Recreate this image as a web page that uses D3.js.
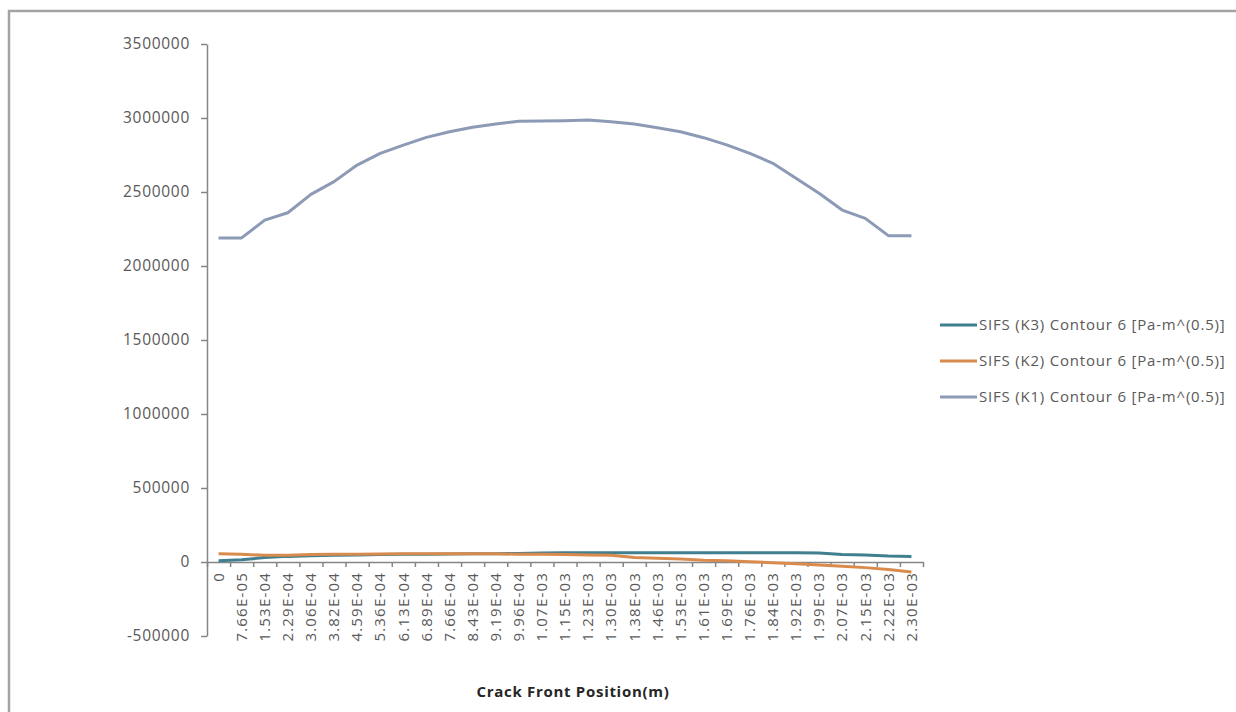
<!DOCTYPE html>
<html>
<head>
<meta charset="utf-8">
<script src="https://cdn.jsdelivr.net/npm/d3@7"></script>
<style>
  html, body { margin: 0; padding: 0; background: #ffffff; }
  svg { display: block; }
  text { font-family: "Open Sans", "DejaVu Sans", sans-serif; }
</style>
</head>
<body>
<svg id="chart" width="1236" height="712"></svg>
<script>
// Crack front positions (category labels along the x axis)
const positions = [
  "0", "7.66E-05", "1.53E-04", "2.29E-04", "3.06E-04", "3.82E-04", "4.59E-04",
  "5.36E-04", "6.13E-04", "6.89E-04", "7.66E-04", "8.43E-04", "9.19E-04",
  "9.96E-04", "1.07E-03", "1.15E-03", "1.23E-03", "1.30E-03", "1.38E-03",
  "1.46E-03", "1.53E-03", "1.61E-03", "1.69E-03", "1.76E-03", "1.84E-03",
  "1.92E-03", "1.99E-03", "2.07E-03", "2.15E-03", "2.22E-03", "2.30E-03"
];

// Stress intensity factors along the front, Pa·m^0.5
const k3Values = [
  8000, 15000, 30000, 38000, 42000, 45000, 48000, 50000, 52000, 53000,
  54000, 55000, 56000, 58000, 60000, 62000, 63000, 63000, 63000, 63000,
  63000, 63000, 63000, 63000, 62000, 62000, 60000, 50000, 48000, 40000, 38000
];
const k2Values = [
  55000, 52000, 45000, 45000, 50000, 52000, 53000, 54000, 55000, 55000,
  55000, 55000, 55000, 52000, 52000, 50000, 48000, 45000, 30000, 25000,
  20000, 12000, 8000, 2000, -5000, -12000, -20000, -28000, -38000, -50000, -68000
];
const k1Values = [
  2190000, 2190000, 2310000, 2360000, 2484000, 2570000, 2682000, 2761000,
  2817000, 2869000, 2907000, 2937000, 2959000, 2978000, 2980000, 2982000,
  2986000, 2975000, 2959000, 2934000, 2907000, 2867000, 2818000, 2761000,
  2694000, 2593000, 2491000, 2378000, 2322000, 2205000, 2205000
];

const seriesNames = [
  "SIFS (K3) Contour 6 [Pa-m^(0.5)]",
  "SIFS (K2) Contour 6 [Pa-m^(0.5)]",
  "SIFS (K1) Contour 6 [Pa-m^(0.5)]"
];
const seriesColors = ["#3f7f8f", "#d98b4e", "#8c9ab6"];
const yTicks = [-500000, 0, 500000, 1000000, 1500000, 2000000, 2500000, 3000000, 3500000];
const xTitle = "Crack Front Position(m)";

const series = [k3Values, k2Values, k1Values].map((values, i) => ({
  name: seriesNames[i], color: seriesColors[i], values
}));

const svg = d3.select("#chart");
const axisColor = "#868686";
const textColor = "#595959";

// chart area frame
svg.append("rect")
  .attr("x", 9).attr("y", 11)
  .attr("width", 1300).attr("height", 800)
  .attr("fill", "none")
  .attr("stroke", "#a3a3a3")
  .attr("stroke-width", 2.5);

const plot = { left: 207, right: 923, top: 44, bottom: 636 };

const x = d3.scaleBand().domain(positions).range([plot.left, plot.right]).padding(0);
const idx = d3.scaleLinear().domain([0, positions.length]).range([plot.left, plot.right]);
const y = d3.scaleLinear().domain([-500000, 3500000]).range([plot.bottom, plot.top]);

// plain integers with an ASCII hyphen for negatives
const intFormat = v => String(Math.round(v));

// vertical axis
const yAxis = svg.append("g")
  .attr("transform", `translate(${plot.left},0)`)
  .call(d3.axisLeft(y).tickValues(yTicks).tickFormat(intFormat).tickSize(6).tickPadding(11).tickSizeOuter(0));
yAxis.select(".domain").attr("stroke", axisColor).attr("stroke-width", 1.5);
yAxis.selectAll(".tick line").attr("stroke", axisColor).attr("stroke-width", 1.5);
yAxis.selectAll(".tick text")
  .attr("fill", textColor)
  .style("font-size", "15.5px")
  .style("letter-spacing", "0.7px");

// horizontal axis at zero: tick marks between categories
const y0 = y(0);
const xTickAxis = svg.append("g")
  .attr("transform", `translate(0,${y0})`)
  .call(d3.axisBottom(idx).tickValues(d3.range(positions.length + 1)).tickFormat("").tickSize(5).tickSizeOuter(0));
xTickAxis.select(".domain").attr("stroke", axisColor).attr("stroke-width", 1.5);
xTickAxis.selectAll(".tick line").attr("stroke", axisColor).attr("stroke-width", 1.5);

// category labels, rotated
const xLabelAxis = svg.append("g")
  .attr("transform", `translate(0,${y0})`)
  .call(d3.axisBottom(x).tickSize(0).tickPadding(0));
xLabelAxis.select(".domain").remove();
xLabelAxis.selectAll(".tick text")
  .attr("fill", textColor)
  .style("font-size", "15px")
  .style("letter-spacing", "1.2px")
  .attr("transform", "rotate(-90)")
  .attr("text-anchor", "end")
  .attr("x", -10)
  .attr("y", 0)
  .attr("dy", "0.35em");

// series lines
const line = d3.line()
  .x((d, i) => x(positions[i]) + x.bandwidth() / 2)
  .y(d => y(d));

svg.append("g")
  .selectAll("path")
  .data(series)
  .join("path")
  .attr("d", d => line(d.values))
  .attr("fill", "none")
  .attr("stroke", d => d.color)
  .attr("stroke-width", 3)
  .attr("stroke-linejoin", "round")
  .attr("stroke-linecap", "butt");

// legend
const legend = svg.append("g").attr("transform", "translate(940,325)");
const rows = legend.selectAll("g")
  .data(series)
  .join("g")
  .attr("transform", (d, i) => `translate(0,${i * 36})`);
rows.append("line")
  .attr("x1", 0).attr("x2", 37)
  .attr("y1", 0).attr("y2", 0)
  .attr("stroke", d => d.color)
  .attr("stroke-width", 3);
rows.append("text")
  .attr("x", 39)
  .attr("y", 0)
  .attr("dy", "0.35em")
  .attr("fill", textColor)
  .style("font-size", "15px")
  .style("letter-spacing", "0.8px")
  .text(d => d.name);

// axis title
svg.append("text")
  .attr("x", 573)
  .attr("y", 692)
  .attr("dy", "0.35em")
  .attr("text-anchor", "middle")
  .attr("fill", "#262626")
  .style("font-size", "15px")
  .style("letter-spacing", "0.7px")
  .style("font-weight", "bold")
  .text(xTitle);
</script>
</body>
</html>
